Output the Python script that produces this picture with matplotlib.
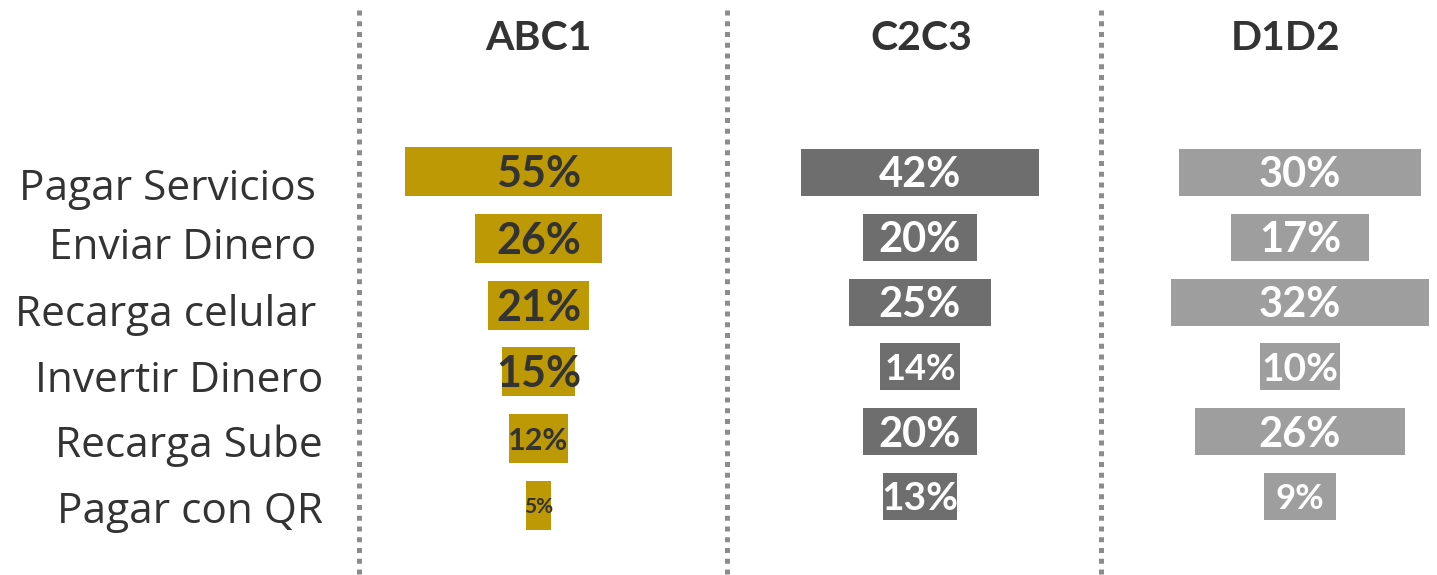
import matplotlib
matplotlib.use("Agg")
import matplotlib.pyplot as plt
from matplotlib.lines import Line2D
from matplotlib.transforms import offset_copy
import numpy as np

# ---------------- data ----------------
categories = ["Pagar Servicios", "Enviar Dinero", "Recarga celular",
              "Invertir Dinero", "Recarga Sube", "Pagar con QR"]
segments = ["ABC1", "C2C3", "D1D2"]
abc1 = [55, 26, 21, 15, 12, 5]
c2c3 = [42, 20, 25, 14, 20, 13]
d1d2 = [30, 17, 32, 10, 26, 9]
series = [abc1, c2c3, d1d2]

# ---------------- style / layout ----------------
W, H, DPI = 1437, 575, 100
FONT = ["Lato", "DejaVu Sans"]
LABEL_FONT = ["Open Sans", "DejaVu Sans"]
DARK = "#333333"
bar_colors = ["#BD9A05", "#6E6E6E", "#9E9E9E"]
text_colors = [DARK, "white", "white"]
value_sizes = [[31, 31, 31, 31, 22, 15],
               [30, 30, 30, 26, 30, 28],
               [30, 30, 30, 28, 30, 25]]
panel_center_px = [538.5, 920, 1300]
px_per_pct = [4.85, 5.67, 8.07]
row_spacing_px = [66.8, 64.8, 64.8]
first_row_px = [171.5, 172.5, 172.5]
bar_h = [0.733, 0.725, 0.725]
title_x_px = [538, 921, 1286]
title_base_px = 50
label_right_px = [316, 316, 316, 323, 323, 323]
label_base_px = [200, 259, 326, 392, 457, 523]
sep_x_px = [359, 727, 1101]
CAP = 0.717  # Lato cap-height / em

fig = plt.figure(figsize=(W / DPI, H / DPI), dpi=DPI)
fig.patch.set_facecolor("white")


def px_axes(left, top, width, height):
    return fig.add_axes([left / W, 1 - (top + height) / H, width / W, height / H])


for i, vals in enumerate(series):
    aw = 300
    top = first_row_px[i] - 0.5 * row_spacing_px[i]
    ah = len(categories) * row_spacing_px[i]
    ax = px_axes(panel_center_px[i] - aw / 2, top, aw, ah)
    half = aw / 2 / px_per_pct[i]
    ax.set_xlim(-half, half)
    ax.set_ylim(len(categories) - 0.5, -0.5)
    ax.axis("off")
    v = np.array(vals, dtype=float)
    y = np.arange(len(categories))
    ax.barh(y, v, left=-v / 2, height=bar_h[i], color=bar_colors[i])
    for j, val in enumerate(vals):
        fs = value_sizes[i][j]
        tr = offset_copy(ax.transData, fig=fig, y=-CAP * fs / 2, units="points")
        ax.text(0, j, f"{val}%", transform=tr, ha="center", va="baseline",
                fontsize=fs, fontweight="bold", color=text_colors[i], family=FONT)

# titles
for i, s in enumerate(segments):
    fig.text(title_x_px[i] / W, 1 - title_base_px / H, s, ha="center", va="baseline",
             fontsize=29.5, fontweight="bold", color=DARK, family=FONT)

# category labels
for j, c in enumerate(categories):
    fig.text(label_right_px[j] / W, 1 - label_base_px[j] / H, c, ha="right",
             va="baseline", fontsize=30.5, color=DARK, family=LABEL_FONT)

# dotted separators
for x in sep_x_px:
    ln = Line2D([x / W, x / W], [1 - 10 / H, 0], transform=fig.transFigure,
                color="#8C8C8C", linewidth=3.6, linestyle=(0, (1, 1.15)),
                solid_capstyle="butt", dash_capstyle="butt")
    fig.add_artist(ln)

fig.savefig("out.png", dpi=DPI, facecolor="white")
